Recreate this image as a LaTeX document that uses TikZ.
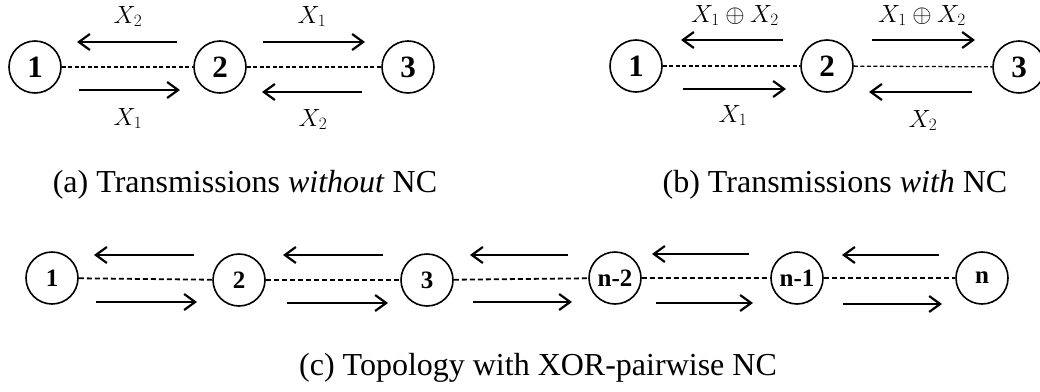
\documentclass[tikz,border=0pt]{standalone}
\usepackage{fontspec}
\setmainfont{Liberation Serif}
\usetikzlibrary{arrows.meta}
\begin{document}
\begin{tikzpicture}[x=1pt,y=-1pt,
  nd/.style={circle,draw,line width=1.6pt,minimum size=52pt,inner sep=0pt,font=\fontsize{31}{31}\selectfont\bfseries},
  ndc/.style={nd,font=\fontsize{25}{25}\selectfont\bfseries},
  link/.style={line width=1.3pt,dash pattern=on 4pt off 2.5pt},
  linkc/.style={line width=1.8pt,dash pattern=on 5pt off 3pt},
  tx/.style={line width=2.4pt,-{Straight Barb[length=11pt,width=16pt,line width=2.2pt]}},
  lbl/.style={anchor=base,inner sep=0pt,font=\fontsize{23}{23}\selectfont},
  captxt/.style={anchor=base,inner sep=0pt,font=\fontsize{32}{32}\selectfont}]
\useasboundingbox (0,0) rectangle (1040,391);
\clip (0,0) rectangle (1040,391);
% ---------- (a) ----------
\node[nd] (a1) at (35,67) {1};
\node[nd] (a2) at (220,67) {2};
\node[nd] (a3) at (408,67) {3};
\draw[link] (a1) -- (a2);
\draw[link] (a2) -- (a3);
\coordinate (a12s) at (177,42); \coordinate (a12e) at (77,42);
\coordinate (a12bs) at (79,90); \coordinate (a12be) at (180,90);
\coordinate (a23s) at (263,42); \coordinate (a23e) at (365,42);
\coordinate (a23bs) at (362,92); \coordinate (a23be) at (262,92);
\draw[tx] (a12s) -- (a12e);
\draw[tx] (a12bs) -- (a12be);
\draw[tx] (a23s) -- (a23e);
\draw[tx] (a23bs) -- (a23be);
\node[lbl] (la1) at (128,23) {$X_2$};
\node[lbl] (la2) at (312,23) {$X_1$};
\node[lbl] (la3) at (128,125) {$X_1$};
\node[lbl] (la4) at (313,126) {$X_2$};
\node[captxt] (capa) at (245,192) {(a) Transmissions \textit{without} NC};
% ---------- (b) ----------
\node[nd] (b1) at (636,66) {1};
\node[nd] (b2) at (827,66) {2};
\node[nd] (b3) at (1019,67) {3};
\draw[link] (b1) -- (b2);
\draw[link] (b2) -- (b3);
\coordinate (b12s) at (783,40); \coordinate (b12e) at (681,40);
\coordinate (b12bs) at (683,89); \coordinate (b12be) at (786,89);
\coordinate (b23s) at (872,40); \coordinate (b23e) at (975,40);
\coordinate (b23bs) at (972,92); \coordinate (b23be) at (869,92);
\draw[tx] (b12s) -- (b12e);
\draw[tx] (b12bs) -- (b12be);
\draw[tx] (b23s) -- (b23e);
\draw[tx] (b23bs) -- (b23be);
\node[lbl] (lb1) at (735,22) {$X_1\oplus X_2$};
\node[lbl] (lb2) at (922,22) {$X_1\oplus X_2$};
\node[lbl] (lb3) at (733,122) {$X_1$};
\node[lbl] (lb4) at (923,127) {$X_2$};
\node[captxt] (capb) at (835,192) {(b) Transmissions \textit{with} NC};
% ---------- (c) ----------
\node[ndc] (c1) at (52,278) {1};
\node[ndc] (c2) at (239,280) {2};
\node[ndc] (c3) at (427,280) {3};
\node[ndc] (c4) at (615,278) {n-2};
\node[ndc] (c5) at (797,278) {n-1};
\node[ndc] (c6) at (982,278) {n};
\draw[linkc] (c1) -- (c2);
\draw[linkc] (c2) -- (c3);
\draw[linkc] (c3) -- (c4);
\draw[linkc] (c4) -- (c5);
\draw[linkc] (c5) -- (c6);
\coordinate (u1s) at (194,255); \coordinate (u1e) at (94,255);
\coordinate (u2s) at (383,255); \coordinate (u2e) at (283,255);
\coordinate (u3s) at (568,255); \coordinate (u3e) at (470,255);
\coordinate (u4s) at (749,254); \coordinate (u4e) at (652,254);
\coordinate (u5s) at (939,255); \coordinate (u5e) at (842,255);
\coordinate (d1s) at (96,302); \coordinate (d1e) at (197,302);
\coordinate (d2s) at (287,303); \coordinate (d2e) at (388,303);
\coordinate (d3s) at (473,302); \coordinate (d3e) at (572,302);
\coordinate (d4s) at (656,303); \coordinate (d4e) at (753,303);
\coordinate (d5s) at (843,304); \coordinate (d5e) at (942,304);
\foreach \i in {1,...,5}{
  \draw[tx] (u\i s) -- (u\i e);
  \draw[tx] (d\i s) -- (d\i e);
}
\node[captxt] (capc) at (538,375) {(c) Topology with XOR-pairwise NC};
\end{tikzpicture}
\end{document}
